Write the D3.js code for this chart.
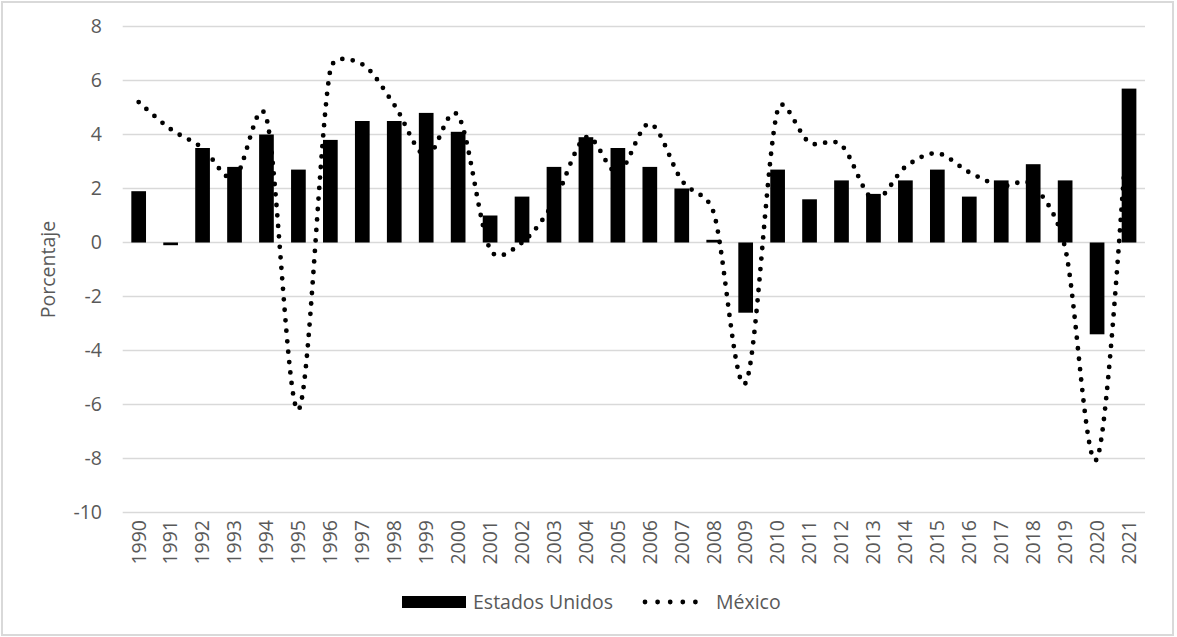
<!DOCTYPE html>
<html>
<head>
<meta charset="utf-8">
<script src="https://cdn.jsdelivr.net/npm/d3@7"></script>
<style>
  body { margin: 0; background: #fff; }
  svg { display: block; }
  text { font-family: "Open Sans", sans-serif; fill: #595959; }
</style>
</head>
<body>
<svg width="1177" height="637"></svg>
<script>
// categorias y series
var years = ["1990","1991","1992","1993","1994","1995","1996","1997","1998","1999",
             "2000","2001","2002","2003","2004","2005","2006","2007","2008","2009",
             "2010","2011","2012","2013","2014","2015","2016","2017","2018","2019",
             "2020","2021"];
var estadosUnidos = [1.9, -0.1, 3.5, 2.8, 4.0, 2.7, 3.8, 4.5, 4.5, 4.8,
                     4.1, 1.0, 1.7, 2.8, 3.9, 3.5, 2.8, 2.0, 0.1, -2.6,
                     2.7, 1.6, 2.3, 1.8, 2.3, 2.7, 1.7, 2.3, 2.9, 2.3,
                     -3.4, 5.7];
var mexico = [5.2, 4.2, 3.5, 2.4, 4.6, -6.2, 6.4, 6.6, 5.1, 3.2,
              4.7, -0.25, 0.0, 1.5, 3.9, 2.6, 4.4, 2.3, 1.1, -5.2,
              4.9, 3.7, 3.6, 1.6, 2.8, 3.3, 2.6, 2.1, 2.1, -0.2,
              -8.0, 5.0];
var yTicks = [-10, -8, -6, -4, -2, 0, 2, 4, 6, 8];

var svg = d3.select("svg");
var width = 1177, height = 637;
var fontSize = "19.5px";

// marco exterior
svg.append("rect")
  .attr("x", 2).attr("y", 2)
  .attr("width", width - 6).attr("height", height - 4)
  .attr("fill", "#fff")
  .attr("stroke", "#d9d9d9")
  .attr("stroke-width", 2);

var x = d3.scaleBand()
  .domain(years)
  .range([122.7, 1145])
  .paddingInner(0.54)
  .paddingOuter(0.27);

var y = d3.scaleLinear()
  .domain([-10, 8])
  .range([512.5, 26.5]);

function cx(d) { return x(d) + x.bandwidth() / 2; }

// rejilla
svg.append("g")
  .selectAll("line")
  .data(yTicks)
  .enter()
  .append("line")
  .attr("x1", 122.7).attr("x2", 1145)
  .attr("y1", function(d) { return y(d); })
  .attr("y2", function(d) { return y(d); })
  .attr("stroke", "#d9d9d9")
  .attr("stroke-width", 1.5);

// eje y (guion normal, como en el original)
var yAxis = svg.append("g")
  .attr("transform", "translate(102,0)")
  .call(d3.axisLeft(y).tickValues(yTicks).tickSize(0).tickPadding(0)
          .tickFormat(function(d) { return String(d); }));
yAxis.select(".domain").remove();
yAxis.selectAll("text")
  .style("font-size", fontSize)
  .style("font-family", "'Open Sans', sans-serif")
  .attr("fill", "#595959");

svg.append("text")
  .attr("transform", "translate(55," + y(-1) + ") rotate(-90)")
  .attr("text-anchor", "middle")
  .style("font-size", fontSize)
  .text("Porcentaje");

// eje x
var xAxis = svg.append("g")
  .attr("transform", "translate(0," + 518 + ")")
  .call(d3.axisBottom(x).tickSize(0).tickPadding(0));
xAxis.select(".domain").remove();
xAxis.selectAll("text")
  .style("font-size", fontSize)
  .style("font-family", "'Open Sans', sans-serif")
  .attr("fill", "#595959")
  .attr("transform", "rotate(-90)")
  .attr("text-anchor", "end")
  .attr("x", -2)
  .attr("y", 0)
  .attr("dy", "0.35em");

// barras Estados Unidos
svg.append("g")
  .selectAll("rect")
  .data(estadosUnidos)
  .enter()
  .append("rect")
  .attr("x", function(d, i) { return x(years[i]); })
  .attr("width", x.bandwidth())
  .attr("y", function(d) { return y(Math.max(0, d)); })
  .attr("height", function(d) { return Math.abs(y(d) - y(0)); })
  .attr("fill", "#000");

// linea suavizada tipo Excel: bezier con asas limitadas a medio segmento
function dist(a, b) { return Math.hypot(b[0] - a[0], b[1] - a[1]); }

function smoothPath(pts) {
  var p = d3.path();
  var n = pts.length;
  p.moveTo(pts[0][0], pts[0][1]);
  for (var i = 0; i < n - 1; i++) {
    var p0 = pts[Math.max(i - 1, 0)], p1 = pts[i], p2 = pts[i + 1], p3 = pts[Math.min(i + 2, n - 1)];
    var d02 = dist(p0, p2), d12 = dist(p1, p2), d13 = dist(p1, p3);
    var f = (d02 / 6 < d12 / 2) ? 1 / 6 : d12 / (2 * d02);
    var g = (d13 / 6 < d12 / 2) ? 1 / 6 : d12 / (2 * d13);
    p.bezierCurveTo(
      p1[0] + f * (p2[0] - p0[0]), p1[1] + f * (p2[1] - p0[1]),
      p2[0] - g * (p3[0] - p1[0]), p2[1] - g * (p3[1] - p1[1]),
      p2[0], p2[1]);
  }
  return p.toString();
}

var mexPts = mexico.map(function(d, i) { return [cx(years[i]), y(d)]; });

svg.append("path")
  .attr("d", smoothPath(mexPts))
  .attr("fill", "none")
  .attr("stroke", "#000")
  .attr("stroke-width", 4.8)
  .attr("stroke-linecap", "round")
  .attr("stroke-dasharray", "0 10.5");

// leyenda
var legend = svg.append("g");
legend.append("rect")
  .attr("x", 402).attr("y", 596)
  .attr("width", 64).attr("height", 12)
  .attr("fill", "#000");
legend.append("text")
  .attr("x", 473).attr("y", 609)
  .style("font-size", fontSize)
  .text("Estados Unidos");
legend.append("line")
  .attr("x1", 645).attr("x2", 708)
  .attr("y1", 602).attr("y2", 602)
  .attr("stroke", "#000")
  .attr("stroke-width", 4.8)
  .attr("stroke-linecap", "round")
  .attr("stroke-dasharray", "0 12.6");
legend.append("text")
  .attr("x", 716).attr("y", 609)
  .style("font-size", fontSize)
  .text("México");
</script>
</body>
</html>
